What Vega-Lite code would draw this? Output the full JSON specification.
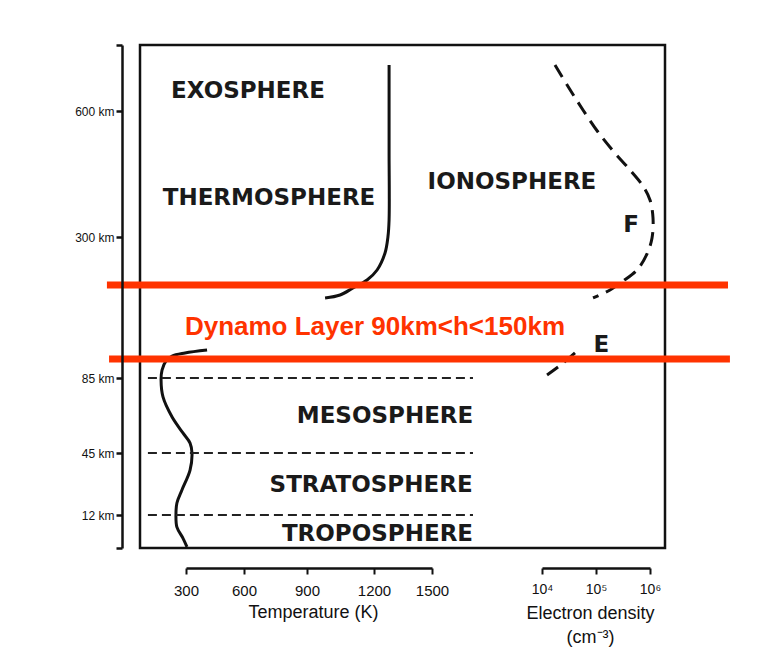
{
  "$schema": "https://vega.github.io/schema/vega-lite/v6.json",
  "autosize": {"type": "none"},
  "width": 525,
  "height": 503,
  "padding": {"left": 140, "top": 45, "right": 93, "bottom": 109},
  "background": "white",
  "config": {
    "view": {"stroke": "#111111", "strokeWidth": 2.5},
    "axis": {"grid": false, "domainColor": "#111111", "tickColor": "#111111", "labelColor": "#111111", "titleColor": "#111111", "labelFont": "Liberation Sans", "titleFont": "Liberation Sans"}
  },
  "resolve": {"scale": {"x": "independent"}, "axis": {"x": "independent", "y": "independent"}},
  "layer": [
    {
      "data": {"values": [
        {"seg": "A", "i": 1, "temp": 305, "alt": 0.4},
        {"seg": "A", "i": 2, "temp": 284, "alt": 3.6},
        {"seg": "A", "i": 3, "temp": 253, "alt": 7.6},
        {"seg": "A", "i": 4, "temp": 248, "alt": 12},
        {"seg": "A", "i": 5, "temp": 253, "alt": 18.4},
        {"seg": "A", "i": 6, "temp": 279, "alt": 25.3},
        {"seg": "A", "i": 7, "temp": 321, "alt": 35.9},
        {"seg": "A", "i": 8, "temp": 331, "alt": 45},
        {"seg": "A", "i": 9, "temp": 321, "alt": 50.3},
        {"seg": "A", "i": 10, "temp": 284, "alt": 55.7},
        {"seg": "A", "i": 11, "temp": 228, "alt": 64.2},
        {"seg": "A", "i": 12, "temp": 181, "alt": 74.9},
        {"seg": "A", "i": 13, "temp": 171, "alt": 83.9},
        {"seg": "A", "i": 14, "temp": 176, "alt": 87.1},
        {"seg": "A", "i": 15, "temp": 197, "alt": 89.5},
        {"seg": "A", "i": 16, "temp": 228, "alt": 92.4},
        {"seg": "A", "i": 17, "temp": 295, "alt": 94.9},
        {"seg": "A", "i": 18, "temp": 409, "alt": 97.3},
        {"seg": "B", "i": 19, "temp": 981, "alt": 139.5},
        {"seg": "B", "i": 20, "temp": 1048, "alt": 141.9},
        {"seg": "B", "i": 21, "temp": 1106, "alt": 147.6},
        {"seg": "B", "i": 22, "temp": 1169, "alt": 165.6},
        {"seg": "B", "i": 23, "temp": 1216, "alt": 196.9},
        {"seg": "B", "i": 24, "temp": 1257, "alt": 250},
        {"seg": "B", "i": 25, "temp": 1272, "alt": 300},
        {"seg": "B", "i": 26, "temp": 1278, "alt": 340.5},
        {"seg": "B", "i": 27, "temp": 1278, "alt": 507},
        {"seg": "B", "i": 28, "temp": 1278, "alt": 704.6}
      ]},
      "mark": {"type": "line", "color": "#111111", "strokeWidth": 3, "interpolate": "catmull-rom"},
      "encoding": {
        "x": {"field": "temp", "type": "quantitative", "scale": {"domain": [300, 600, 900, 1200, 1500], "range": [46, 104, 167, 234, 292], "nice": false, "zero": false},
              "axis": {"orient": "bottom", "offset": 20, "values": [300, 600, 900, 1200, 1500], "format": "d", "tickSize": 6, "tickWidth": 2, "domainWidth": 2.5, "labelFontSize": 15, "labelPadding": 9, "labelFlush": false, "labelOverlap": false, "title": "Temperature (K)", "titleFontSize": 18, "titleFontWeight": "normal", "titlePadding": 5, "titleX": 173, "zindex": 2}},
        "y": {"field": "alt", "type": "quantitative", "scale": {"domain": [0, 12, 45, 85, 90, 150, 300, 600, 750], "range": [503, 470, 408, 333, 314, 240, 192, 66, 0], "nice": false, "zero": false},
              "axis": {"orient": "left", "offset": 18, "values": [0, 12, 45, 85, 300, 600, 750], "labelExpr": "datum.value==0||datum.value==750?'':datum.value+' km'", "tickSize": 6, "tickWidth": 2.5, "domainWidth": 2.5, "labelFontSize": 12, "labelPadding": 2, "title": null, "zindex": 2}},
        "detail": {"field": "seg"},
        "order": {"field": "i"}
      }
    },
    {
      "data": {"values": [
        {"alt": 85, "t0": 103, "t1": 1712},
        {"alt": 45, "t0": 103, "t1": 1712},
        {"alt": 12, "t0": 103, "t1": 1712}
      ]},
      "mark": {"type": "rule", "color": "#222222", "strokeWidth": 2, "strokeDash": [9, 5]},
      "encoding": {
        "x": {"field": "t0", "type": "quantitative", "scale": {"domain": [300, 600, 900, 1200, 1500], "range": [46, 104, 167, 234, 292], "nice": false, "zero": false}, "axis": null},
        "x2": {"field": "t1"},
        "y": {"field": "alt", "type": "quantitative", "scale": {"domain": [0, 12, 45, 85, 90, 150, 300, 600, 750], "range": [503, 470, 408, 333, 314, 240, 192, 66, 0], "nice": false, "zero": false}, "axis": null}
      }
    },
    {
      "data": {"values": [
        {"label": "EXOSPHERE", "temp": 619, "alt": 645.5},
        {"label": "THERMOSPHERE", "temp": 719, "alt": 392.9},
        {"label": "MESOSPHERE", "temp": 1257, "alt": 64.7},
        {"label": "STRATOSPHERE", "temp": 1187, "alt": 28},
        {"label": "TROPOSPHERE", "temp": 1218, "alt": 5.1}
      ]},
      "mark": {"type": "text", "font": "DejaVu Sans", "fontWeight": "bold", "fontSize": 23, "color": "#1a1a1a", "align": "center", "baseline": "middle"},
      "encoding": {
        "x": {"field": "temp", "type": "quantitative", "scale": {"domain": [300, 600, 900, 1200, 1500], "range": [46, 104, 167, 234, 292], "nice": false, "zero": false}, "axis": null},
        "y": {"field": "alt", "type": "quantitative", "scale": {"domain": [0, 12, 45, 85, 90, 150, 300, 600, 750], "range": [503, 470, 408, 333, 314, 240, 192, 66, 0], "nice": false, "zero": false}, "axis": null},
        "text": {"field": "label"}
      }
    },
    {
      "data": {"values": [
        {"seg": "F", "i": 1, "density": 17400, "alt": 704.6},
        {"seg": "F", "i": 2, "density": 31600, "alt": 652.3},
        {"seg": "F", "i": 3, "density": 57400, "alt": 602.4},
        {"seg": "F", "i": 4, "density": 108900, "alt": 550},
        {"seg": "F", "i": 5, "density": 215400, "alt": 502.4},
        {"seg": "F", "i": 6, "density": 426600, "alt": 459.5},
        {"seg": "F", "i": 7, "density": 741000, "alt": 421.4},
        {"seg": "F", "i": 8, "density": 1000000, "alt": 388.1},
        {"seg": "F", "i": 9, "density": 1137000, "alt": 345.2},
        {"seg": "F", "i": 10, "density": 1090000, "alt": 296.9},
        {"seg": "F", "i": 11, "density": 880000, "alt": 246.9},
        {"seg": "F", "i": 12, "density": 574000, "alt": 196.9},
        {"seg": "F", "i": 13, "density": 316000, "alt": 162.5},
        {"seg": "F", "i": 14, "density": 182000, "alt": 146},
        {"seg": "F", "i": 15, "density": 88000, "alt": 139.5},
        {"seg": "E", "i": 16, "density": 40800, "alt": 94.9},
        {"seg": "E", "i": 17, "density": 24500, "alt": 88.9},
        {"seg": "E", "i": 18, "density": 12400, "alt": 85.8}
      ]},
      "mark": {"type": "line", "color": "#111111", "strokeWidth": 3, "strokeDash": [14, 8], "interpolate": "catmull-rom"},
      "encoding": {
        "x": {"field": "density", "type": "quantitative", "scale": {"type": "log", "domain": [10000, 1000000], "range": [402, 510], "nice": false},
              "axis": {"orient": "bottom", "offset": 20, "values": [10000, 100000, 1000000], "labelExpr": "datum.value==10000?'10⁴':datum.value==100000?'10⁵':'10⁶'", "tickSize": 6, "tickWidth": 2, "domainWidth": 2.5, "labelFontSize": 14, "labelPadding": 8, "labelFlush": false, "labelOverlap": false, "title": ["Electron density", "(cm⁻³)"], "titleFontSize": 18, "titleFontWeight": "normal", "titlePadding": 8, "titleLineHeight": 24, "titleX": 450, "zindex": 2}},
        "y": {"field": "alt", "type": "quantitative", "scale": {"domain": [0, 12, 45, 85, 90, 150, 300, 600, 750], "range": [503, 470, 408, 333, 314, 240, 192, 66, 0], "nice": false, "zero": false}, "axis": null},
        "detail": {"field": "seg"},
        "order": {"field": "i"}
      }
    },
    {
      "data": {"values": [
        {"label": "IONOSPHERE", "density": 2780, "alt": 431},
        {"label": "F", "density": 445000, "alt": 328.6},
        {"label": "E", "density": 126000, "alt": 101.4}
      ]},
      "mark": {"type": "text", "font": "DejaVu Sans", "fontWeight": "bold", "fontSize": 23, "color": "#1a1a1a", "align": "center", "baseline": "middle"},
      "encoding": {
        "x": {"field": "density", "type": "quantitative", "scale": {"type": "log", "domain": [10000, 1000000], "range": [402, 510], "nice": false}, "axis": null},
        "y": {"field": "alt", "type": "quantitative", "scale": {"domain": [0, 12, 45, 85, 90, 150, 300, 600, 750], "range": [503, 470, 408, 333, 314, 240, 192, 66, 0], "nice": false, "zero": false}, "axis": null},
        "text": {"field": "label"}
      }
    },
    {
      "data": {"values": [
        {"alt": 150, "t0": -109, "t1": 3031},
        {"alt": 90, "t0": -98, "t1": 3041}
      ]},
      "mark": {"type": "rule", "color": "#ff3300", "strokeWidth": 7},
      "encoding": {
        "x": {"field": "t0", "type": "quantitative", "scale": {"domain": [300, 600, 900, 1200, 1500], "range": [46, 104, 167, 234, 292], "nice": false, "zero": false}, "axis": null},
        "x2": {"field": "t1"},
        "y": {"field": "alt", "type": "quantitative", "scale": {"domain": [0, 12, 45, 85, 90, 150, 300, 600, 750], "range": [503, 470, 408, 333, 314, 240, 192, 66, 0], "nice": false, "zero": false}, "axis": null}
      }
    },
    {
      "data": {"values": [
        {"label": "Dynamo Layer 90km<h<150km", "temp": 1205, "alt": 116}
      ]},
      "mark": {"type": "text", "font": "Liberation Sans", "fontWeight": "bold", "fontSize": 26, "color": "#ff3300", "align": "center", "baseline": "middle"},
      "encoding": {
        "x": {"field": "temp", "type": "quantitative", "scale": {"domain": [300, 600, 900, 1200, 1500], "range": [46, 104, 167, 234, 292], "nice": false, "zero": false}, "axis": null},
        "y": {"field": "alt", "type": "quantitative", "scale": {"domain": [0, 12, 45, 85, 90, 150, 300, 600, 750], "range": [503, 470, 408, 333, 314, 240, 192, 66, 0], "nice": false, "zero": false}, "axis": null},
        "text": {"field": "label"}
      }
    }
  ]
}
